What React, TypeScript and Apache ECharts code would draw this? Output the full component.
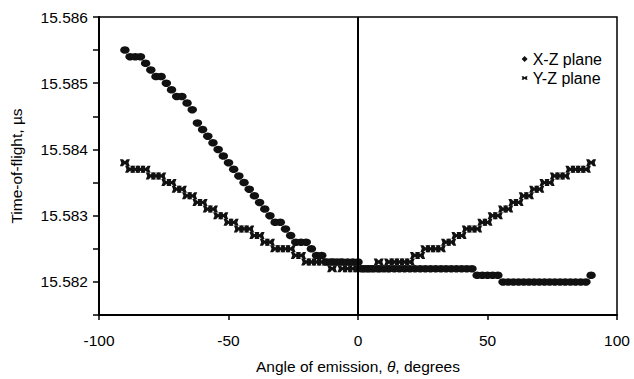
import React, { useEffect, useRef } from "react";
import * as echarts from "echarts";

// Angle of emission (degrees)
const angles = [
  -90, -88, -86, -84, -82, -80, -78, -76, -74, -72, -70, -68, -66, -64, -62, -60,
  -58, -56, -54, -52, -50, -48, -46, -44, -42, -40, -38, -36, -34, -32, -30, -28,
  -26, -24, -22, -20, -18, -16, -14, -12, -10, -8, -6, -4, -2, 0, 2, 4, 6, 8, 10,
  12, 14, 16, 18, 20, 22, 24, 26, 28, 30, 32, 34, 36, 38, 40, 42, 44, 46, 48, 50,
  52, 54, 56, 58, 60, 62, 64, 66, 68, 70, 72, 74, 76, 78, 80, 82, 84, 86, 88, 90,
];

// Time-of-flight, X-Z plane (µs)
const xzPlane = [
  15.5855, 15.5854, 15.5854, 15.5854, 15.5853, 15.5852, 15.5851, 15.5851, 15.585, 15.5849,
  15.5848, 15.5848, 15.5847, 15.5846, 15.5844, 15.5843, 15.5842, 15.5841, 15.584, 15.5839,
  15.5838, 15.5837, 15.5836, 15.5835, 15.5834, 15.5833, 15.5832, 15.5831, 15.583, 15.5829,
  15.5829, 15.5828, 15.5827, 15.5826, 15.5826, 15.5826, 15.5825, 15.5824, 15.5824, 15.5823,
  15.5823, 15.5823, 15.5823, 15.5823, 15.5823, 15.5823,
  15.5822, 15.5822, 15.5822, 15.5822, 15.5822, 15.5822, 15.5822, 15.5822, 15.5822, 15.5822,
  15.5822, 15.5822, 15.5822, 15.5822, 15.5822, 15.5822, 15.5822, 15.5822, 15.5822, 15.5822,
  15.5822, 15.5822,
  15.5821, 15.5821, 15.5821, 15.5821, 15.5821,
  15.582, 15.582, 15.582, 15.582, 15.582, 15.582, 15.582, 15.582, 15.582, 15.582,
  15.582, 15.582, 15.582, 15.582, 15.582, 15.582, 15.582,
  15.5821,
];

// Time-of-flight, Y-Z plane (µs)
const yzPlane = [
  15.5838, 15.5837, 15.5837, 15.5837, 15.5837, 15.5836, 15.5836, 15.5836, 15.5835, 15.5835,
  15.5834, 15.5834, 15.5833, 15.5833, 15.5832, 15.5832, 15.5831, 15.5831, 15.583, 15.583,
  15.5829, 15.5829, 15.5828, 15.5828, 15.5828, 15.5827, 15.5827, 15.5826, 15.5826, 15.5825,
  15.5825, 15.5825, 15.5825, 15.5824, 15.5824, 15.5823, 15.5823, 15.5823, 15.5823, 15.5823,
  15.5822, 15.5823, 15.5822, 15.5822, 15.5822,
  15.5822, 15.5822, 15.5822, 15.5822, 15.5823, 15.5822, 15.5823, 15.5823, 15.5823, 15.5823,
  15.5823, 15.5824, 15.5824, 15.5825, 15.5825, 15.5825, 15.5825, 15.5826, 15.5826, 15.5827,
  15.5827, 15.5828, 15.5828, 15.5828, 15.5829, 15.5829, 15.583, 15.583, 15.5831, 15.5831,
  15.5832, 15.5832, 15.5833, 15.5833, 15.5834, 15.5834, 15.5835, 15.5835, 15.5836, 15.5836,
  15.5836, 15.5837, 15.5837, 15.5837, 15.5837, 15.5838,
];

const seriesNames = ["X-Z plane", "Y-Z plane"];
const xTicks = { min: -100, max: 100, interval: 50 };
const yTicks = { min: 15.5815, max: 15.586, interval: 0.0005 };

const CROSS = "path://M0,0 L3,0 L5,1.8 L7,0 L10,0 L8.6,3 L10,6 L7,6 L5,4.2 L3,6 L0,6 L1.4,3 Z";
const FONT = "'Liberation Sans', Arial, sans-serif";

export default function App() {
  const ref = useRef<HTMLDivElement>(null);

  useEffect(() => {
    if (!ref.current) return;
    const chart = echarts.init(ref.current, undefined, { renderer: "svg" });
    const xz = angles.map((a, i) => [a, xzPlane[i]]);
    const yz = angles.map((a, i) => [a, yzPlane[i]]);
    chart.setOption({
      animation: false,
      backgroundColor: "#fff",
      textStyle: { fontFamily: FONT, color: "#000" },
      grid: {
        left: 96,
        right: 17,
        top: 17,
        bottom: 59,
        show: true,
        borderColor: "#000",
        borderWidth: 1.5,
        backgroundColor: "transparent",
      },
      legend: {
        orient: "vertical",
        right: 27,
        top: 46,
        itemWidth: 6,
        itemHeight: 6,
        itemGap: 3,
        textStyle: { fontFamily: FONT, fontSize: 16, color: "#000" },
        itemStyle: { opacity: 1 },
        data: [
          { name: seriesNames[0], icon: "diamond" },
          { name: seriesNames[1], icon: CROSS },
        ],
      },
      xAxis: {
        type: "value",
        min: xTicks.min,
        max: xTicks.max,
        interval: xTicks.interval,
        name: "Angle of emission, {i|θ}, degrees",
        nameLocation: "middle",
        nameGap: 43,
        nameTextStyle: {
          fontFamily: FONT,
          fontSize: 15.5,
          color: "#000",
          rich: { i: { fontStyle: "italic", fontFamily: FONT, fontSize: 15.5, color: "#000" } },
        },
        axisLine: { show: true, onZero: false, lineStyle: { color: "#000", width: 2 } },
        axisTick: { show: true, inside: false, length: 5, lineStyle: { color: "#000", width: 1.5 } },
        axisLabel: { fontFamily: FONT, fontSize: 15.5, color: "#000", margin: 17 },
        splitLine: { show: false },
      },
      yAxis: {
        type: "value",
        min: yTicks.min,
        max: yTicks.max,
        interval: yTicks.interval,
        name: "Time-of-flight, µs",
        nameLocation: "middle",
        nameGap: 75,
        nameTextStyle: { fontFamily: FONT, fontSize: 15.5, color: "#000" },
        axisLine: { show: true, onZero: false, lineStyle: { color: "#000", width: 2 } },
        axisTick: { show: true, inside: false, length: 6, lineStyle: { color: "#000", width: 1.5 } },
        axisLabel: {
          fontFamily: FONT,
          fontSize: 15.5,
          color: "#000",
          margin: 11,
          formatter: (v: number) => {
            const k = Math.round(v * 10000);
            return k % 10 === 0 ? (k / 10000).toFixed(3) : "";
          },
        },
        splitLine: { show: false },
      },
      series: [
        {
          name: seriesNames[0],
          type: "scatter",
          data: xz,
          symbol: "circle",
          symbolSize: [9.5, 7.5],
          itemStyle: { color: "#111", opacity: 1 },
          markLine: {
            silent: true,
            symbol: "none",
            label: { show: false },
            lineStyle: { color: "#000", width: 2, type: "solid", opacity: 1 },
            data: [{ xAxis: 0 }],
          },
        },
        {
          name: seriesNames[1],
          type: "scatter",
          data: yz,
          symbol: CROSS,
          symbolSize: [10, 7],
          itemStyle: { color: "#111", opacity: 1 },
        },
      ],
    });
    return () => chart.dispose();
  }, []);

  return (
    <div
      ref={ref}
      style={{ position: "fixed", left: 0, top: 0, width: 634, height: 379, background: "#fff" }}
    />
  );
}
